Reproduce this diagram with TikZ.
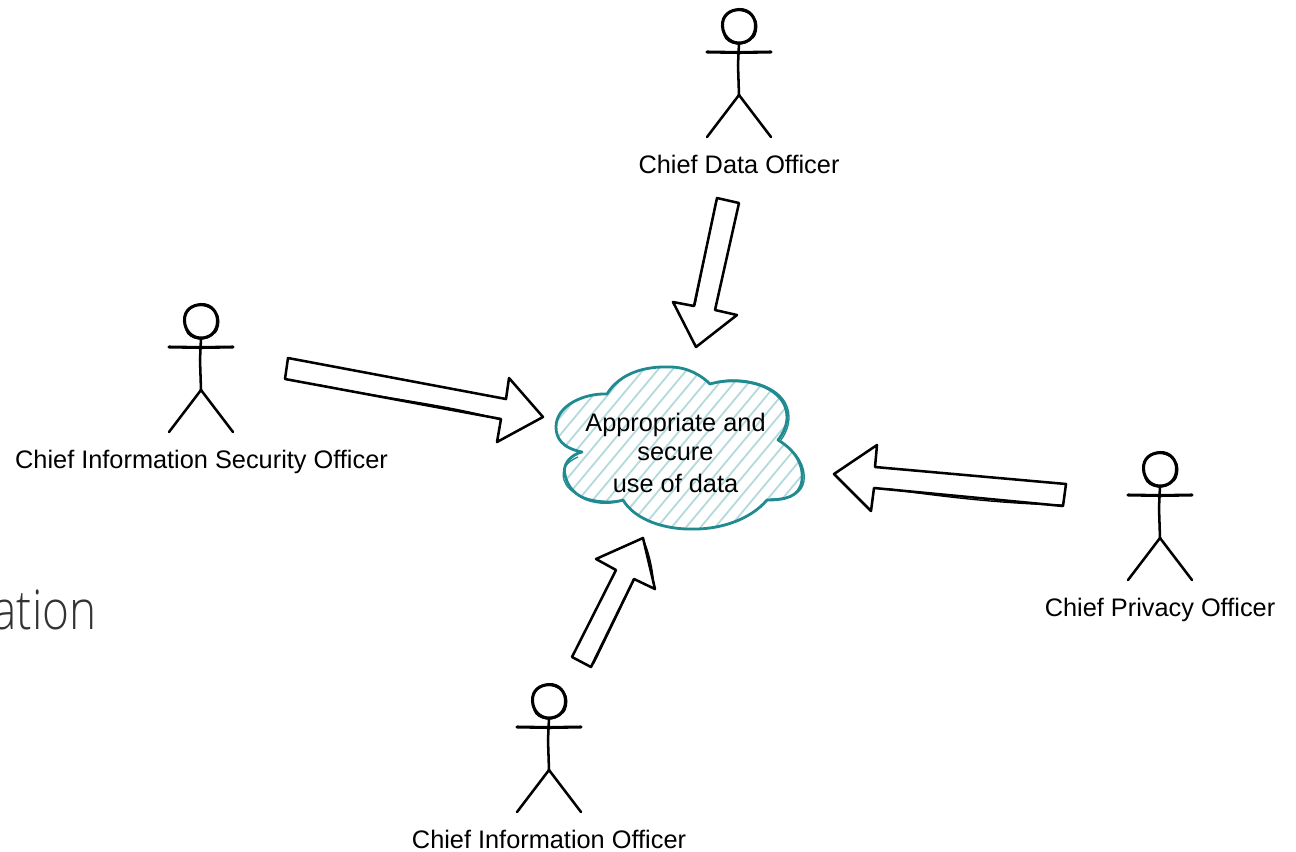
\documentclass[tikz,border=0pt]{standalone}
\usepackage{fontspec}
\setmainfont{Liberation Sans}
\newfontfamily\slidefont[FakeStretch=0.84,UprightFont=* Light]{Open Sans}
\definecolor{teal1}{HTML}{1F8A90}
\definecolor{hatch1}{HTML}{B4DADC}
\definecolor{slidegray}{HTML}{333333}
\tikzset{
  x=0.75pt,y=-0.75pt,
  inkline/.style={line width=1.9pt,black,line join=round,line cap=round},
  armline/.style={line width=2.3pt,black,line join=round,line cap=round},
  thinink/.style={line width=1pt,black,line join=round,line cap=round},
  actorlabel/.style={font=\fontsize{19}{23}\selectfont,text=black,inner sep=0pt,align=center,anchor=base},
  stickman/.pic={
    \draw[armline] (-16.5,-69) .. controls (-17,-80) and (-9,-85) .. (0,-85.5) .. controls (10,-86) and (17,-78) .. (16.5,-68) .. controls (16,-58) and (9,-52) .. (0,-52) .. controls (-9,-52) and (-16,-59) .. (-16.5,-69);
    \draw[thinink] (-15,-60) .. controls (-12,-50) and (6,-47) .. (14,-58);
    \draw[thinink] (-14,-78) .. controls (-8,-88) and (10,-87) .. (17,-74) .. controls (19,-68) and (17,-60) .. (14,-57);
    \draw[inkline] (0,-52) -- (-1,-30) -- (0,0);
    \draw[armline] (-32,-43) -- (0,-42.5) -- (32,-43);
    \draw[inkline] (-32,42) -- (0,0) -- (32,42);
  }
}
\def\cloudpath{(582,452) .. controls (562,448) and (556,438) .. (556,427) .. controls (556,405) and (585,393) .. (607,394)
  .. controls (620,373) and (645,366) .. (670,367) .. controls (688,367) and (702,376) .. (710,384)
  .. controls (730,378) and (762,380) .. (778,396) .. controls (790,408) and (790,425) .. (778,440)
  .. controls (795,450) and (804,465) .. (802,480) .. controls (800,497) and (785,500) .. (767,500)
  .. controls (750,520) and (720,529) .. (695,529) .. controls (665,530) and (635,520) .. (623,500)
  .. controls (600,507) and (570,500) .. (565,475) .. controls (562,465) and (570,455) .. (582,452) -- cycle}
\begin{document}
\begin{tikzpicture}
\useasboundingbox (0,0) rectangle (1296,851);
\clip (0,0) rectangle (1296,851);
\fill[white] (0,0) rectangle (1296,851);
% slide text cut off by the edge
\node[anchor=base east,inner sep=0pt,text=slidegray,font=\slidefont\fontsize{41}{44}\selectfont] (slidetext) at (97,629) {ation};
% cloud
\begin{scope}
  \clip \cloudpath;
  \foreach \k in {0,...,30}{
    \draw[hatch1,line width=1.35pt,line cap=round] ({400+\k*14.5},540) -- ({400+\k*14.5+150},360);
  }
\end{scope}
\draw[teal1,line width=2.1pt,line join=round] \cloudpath;
\draw[teal1,line width=1pt] (716,382) .. controls (735,377) and (768,381) .. (782,398) .. controls (792,410) and (791,426) .. (781,440);
\draw[teal1,line width=1pt] (781,442) .. controls (797,452) and (806,466) .. (804,481) .. controls (802,494) and (790,499) .. (770,499);
\draw[teal1,line width=1pt] (578,457) .. controls (566,462) and (561,470) .. (564,480) .. controls (568,494) and (590,503) .. (616,501);
\node[actorlabel] (cloudline1) at (675.5,431) {Appropriate and};
\node[actorlabel] (cloudline2) at (675.5,460) {secure};
\node[actorlabel] (cloudline3) at (675.5,492) {use of data};
% block arrows
\draw[inkline,fill=white] (717,198) -- (739,203) -- (715,310) -- (737,315) -- (696,347) -- (673,302) -- (694,306) -- cycle;
\draw[thinink] (716,201) .. controls (708,240) and (702,270) .. (695,305);
\draw[inkline,fill=white] (288,358) -- (506,399) -- (509,378) -- (543,417) -- (497,442) -- (501,419) -- (285,379) -- cycle;
\draw[thinink] (320,385) .. controls (380,398) and (450,405) .. (501,420);
\draw[inkline,fill=white] (834,474) -- (877,445) -- (875,467) -- (1066,484) -- (1063,506) -- (874,488) -- (871,511) -- cycle;
\draw[thinink] (890,489) .. controls (950,498) and (1010,504) .. (1063,505);
\draw[inkline,fill=white] (572,657) -- (591,667) -- (634,579) -- (655,589) -- (643,538) -- (596,559) -- (616,570) -- cycle;
\draw[thinink] (643,539) .. controls (650,555) and (653,572) .. (654,588);
\draw[thinink] (594,663) .. controls (610,630) and (622,605) .. (634,580);
% actors
\pic at (739,95) {stickman};
\pic at (201,390) {stickman};
\pic at (1160,538) {stickman};
\pic at (549,770) {stickman};
% labels
\node[actorlabel] (cdo) at (739,173) {Chief Data Officer};
\node[actorlabel] (ciso) at (201.5,468) {Chief Information Security Officer};
\node[actorlabel] (cpo) at (1160,616) {Chief Privacy Officer};
\node[actorlabel] (cio) at (549,848) {Chief Information Officer};
\end{tikzpicture}
\end{document}
